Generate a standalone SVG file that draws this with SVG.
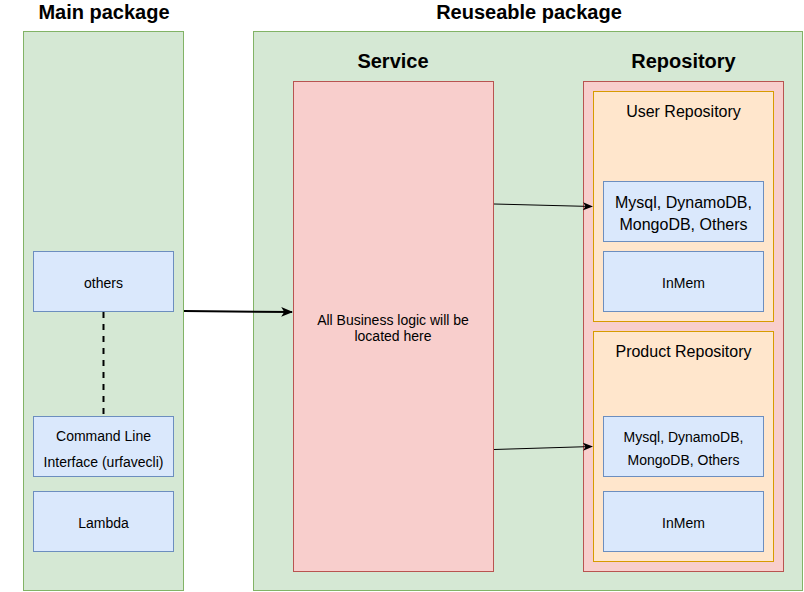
<svg xmlns="http://www.w3.org/2000/svg" width="804" height="592" viewBox="0 0 804 592">
<defs>
<style>
.green{fill:#d5e8d4;stroke:#82b366;stroke-width:1}
.red{fill:#f8cecc;stroke:#b85450;stroke-width:1}
.orange{fill:#ffe6cc;stroke:#d79b00;stroke-width:1}
.blue{fill:#dae8fc;stroke:#6c8ebf;stroke-width:1}
text{font-family:"Liberation Sans",Arial,Helvetica,sans-serif;fill:#000;text-anchor:middle}
.title{font-size:20px;font-weight:bold}
.t14{font-size:14px}
.t16{font-size:16px}
.edge{fill:none;stroke:#000}
</style>
<marker id="arrow" viewBox="0 0 10 10" refX="9" refY="5" markerWidth="10" markerHeight="10" markerUnits="userSpaceOnUse" orient="auto">
<path d="M0,1 L10,5 L0,9 L2.5,5 Z" fill="#000"/>
</marker>
<marker id="arrowBig" viewBox="0 0 10 10" refX="9" refY="5" markerWidth="12" markerHeight="12" markerUnits="userSpaceOnUse" orient="auto">
<path d="M0,1 L10,5 L0,9 L2.5,5 Z" fill="#000"/>
</marker>
</defs>
<rect width="804" height="592" fill="#fff"/>

<g id="main-package">
<rect class="green" x="23.5" y="31.5" width="160" height="559"/>
<text class="title" x="104" y="18.5">Main package</text>
</g>
<g id="reuseable-package">
<rect class="green" x="253.5" y="31.5" width="549" height="559"/>
<text class="title" x="529" y="18.5">Reuseable package</text>
</g>

<g id="others">
<rect class="blue" x="33.5" y="251.5" width="140" height="60"/>
<text class="t14" x="103.5" y="288">others</text>
</g>
<g id="cli">
<rect class="blue" x="33.5" y="416.5" width="140" height="60"/>
<text class="t14" x="103.5" y="441">Command Line</text>
<text class="t14" x="103.5" y="466.5">Interface (urfavecli)</text>
</g>
<g id="lambda">
<rect class="blue" x="33.5" y="491.5" width="140" height="60"/>
<text class="t14" x="103.5" y="528">Lambda</text>
</g>

<g id="service">
<text class="title" x="393" y="68">Service</text>
<rect class="red" x="293.5" y="81.5" width="200" height="490"/>
<text class="t14" x="393" y="324.5">All Business logic will be</text>
<text class="t14" x="393" y="341">located here</text>
</g>

<g id="repository">
<text class="title" x="683.5" y="68">Repository</text>
<rect class="red" x="583.5" y="81.5" width="200" height="490"/>
</g>

<g id="user-repository">
<rect class="orange" x="593.5" y="91.5" width="180" height="230"/>
<text class="t16" x="683.5" y="117">User Repository</text>
</g>
<g id="user-mysql">
<rect class="blue" x="603.5" y="181.5" width="160" height="60"/>
<text class="t16" x="683.5" y="207.5">Mysql, DynamoDB,</text>
<text class="t16" x="683.5" y="229.5">MongoDB, Others</text>
</g>
<g id="user-inmem">
<rect class="blue" x="603.5" y="251.5" width="160" height="60"/>
<text class="t14" x="683.5" y="288">InMem</text>
</g>

<g id="product-repository">
<rect class="orange" x="593.5" y="331.5" width="180" height="230"/>
<text class="t16" x="683.5" y="357">Product Repository</text>
</g>
<g id="product-mysql">
<rect class="blue" x="603.5" y="416.5" width="160" height="60"/>
<text class="t14" x="683.5" y="441.5">Mysql, DynamoDB,</text>
<text class="t14" x="683.5" y="465">MongoDB, Others</text>
</g>
<g id="product-inmem">
<rect class="blue" x="603.5" y="491.5" width="160" height="60"/>
<text class="t14" x="683.5" y="528">InMem</text>
</g>

<g id="connectors">
<line class="edge" x1="103.5" y1="312" x2="103.5" y2="416" stroke-width="2" stroke-dasharray="6,6"/>
<line class="edge" x1="184" y1="311" x2="292" y2="312" stroke-width="2" marker-end="url(#arrowBig)"/>
<line class="edge" x1="494" y1="204" x2="592" y2="206.5" stroke-width="1" marker-end="url(#arrow)"/>
<line class="edge" x1="494" y1="449.5" x2="592" y2="446.5" stroke-width="1" marker-end="url(#arrow)"/>
</g>
</svg>
